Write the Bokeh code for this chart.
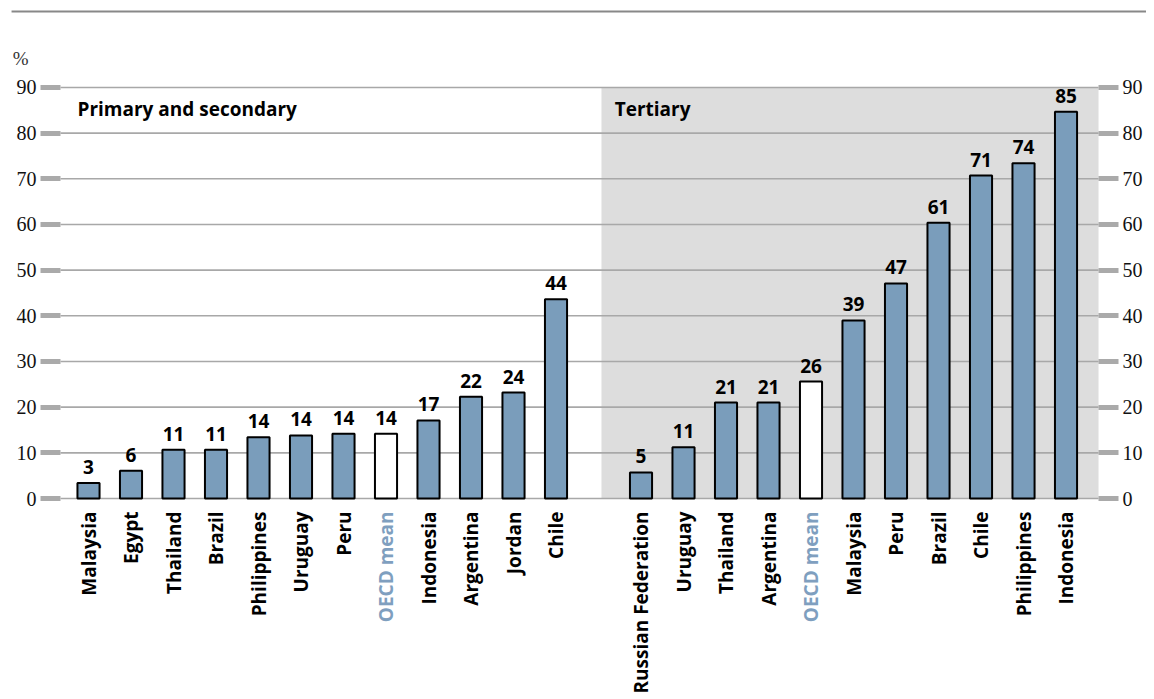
from bokeh.plotting import figure
from bokeh.models import (ColumnDataSource, FixedTicker, LinearAxis, Range1d,
                          BoxAnnotation)
from bokeh.core.properties import value
from bokeh.embed import file_html
from bokeh.resources import INLINE

# ---------------- data ----------------
ps_countries = ["Malaysia", "Egypt", "Thailand", "Brazil", "Philippines", "Uruguay",
                "Peru", "OECD mean", "Indonesia", "Argentina", "Jordan", "Chile"]
ps_values = [3.4, 6.1, 10.7, 10.7, 13.4, 13.8, 14.2, 14.2, 17.1, 22.3, 23.2, 43.6]
ps_labels = ["3", "6", "11", "11", "14", "14", "14", "14", "17", "22", "24", "44"]

t_countries = ["Russian Federation", "Uruguay", "Thailand", "Argentina", "OECD mean",
               "Malaysia", "Peru", "Brazil", "Chile", "Philippines", "Indonesia"]
t_values = [5.7, 11.2, 21.0, 21.0, 25.6, 39.0, 47.1, 60.4, 70.7, 73.4, 84.7]
t_labels = ["5", "11", "21", "21", "26", "39", "47", "61", "71", "74", "85"]

y_ticks = [0, 10, 20, 30, 40, 50, 60, 70, 80, 90]
panel_titles = ["Primary and secondary", "Tertiary"]
unit_label = "%"

# ---------------- styling ----------------
BAR = "#7a9dbb"
OECD_TXT = "#7f9fbf"
SHADE = "#dddddd"
GRID = "#a8a8a8"
TICK = "#aaaaaa"
SANS = "Open Sans"
SERIF = "Liberation Serif"

# layout in data units (one slot per bar, gap slot between panels)
X0, X1 = -2.0706, 25.082          # canvas extent
Y0, Y1 = -44.01, 109.04
FL, FR = -0.6588, 23.765          # plotting-area edges (axes sit here)
SHADE_L = 12.07

names = ps_countries + t_countries
vals = ps_values + t_values
labs = ps_labels + t_labels
xs = list(range(len(ps_countries))) + [len(ps_countries) + 1 + i for i in range(len(t_countries))]
fills = [("white" if n == "OECD mean" else BAR) for n in names]
txtcol = [(OECD_TXT if n == "OECD mean" else "black") for n in names]

src = ColumnDataSource(dict(x=xs, top=vals, lab=labs, name=names, fill=fills, tc=txtcol,
                            zero=[0] * len(xs)))

W, H = 1154, 699
p = figure(width=W, height=H, output_backend="svg", toolbar_location=None,
           x_range=Range1d(X0, X1), y_range=Range1d(Y0, Y1),
           min_border_left=0, min_border_right=0, min_border_top=0, min_border_bottom=0,
           x_axis_location=None, y_axis_location=None)
p.outline_line_color = None
p.background_fill_color = "white"
p.border_fill_color = "white"
p.xgrid.visible = False
p.ygrid.visible = False

# shaded tertiary panel
p.add_layout(BoxAnnotation(left=SHADE_L, right=FR, bottom=0, top=90,
                           fill_color=SHADE, fill_alpha=1.0, line_color=None, level="underlay"))

# horizontal grid lines limited to the plotting area
p.segment(x0=[FL] * len(y_ticks), x1=[FR] * len(y_ticks), y0=y_ticks, y1=y_ticks,
          line_color=GRID, line_width=1.6)

# axes left and right, fixed at the plotting-area edges
for side, loc in [("left", FL), ("right", FR)]:
    ax = LinearAxis(ticker=FixedTicker(ticks=y_ticks), fixed_location=loc)
    ax.axis_line_color = None
    ax.major_tick_line_color = TICK
    ax.major_tick_line_width = 5
    ax.major_tick_out = 20
    ax.major_tick_in = 0
    ax.minor_tick_line_color = None
    ax.major_label_text_font = SERIF
    ax.major_label_text_font_size = "20px"
    ax.major_label_text_color = "#111111"
    ax.major_label_standoff = 4
    p.add_layout(ax, side)

# bars
p.vbar(x="x", top="top", bottom=0, width=0.52, source=src, fill_color="fill",
       line_color="black", line_width=2)

# value labels
p.text(x="x", y="top", text="lab", source=src, text_align="center",
       text_baseline="alphabetic", y_offset=-16, text_font=value(SANS),
       text_font_style="bold", text_font_size="19px", text_color="black")

# category labels (vertical)
p.text(x="x", y="zero", text="name", source=src, angle=1.5707963, text_align="right",
       text_baseline="middle", y_offset=13, text_font=value(SANS),
       text_font_style="bold", text_font_size="19px", text_color="tc")

# panel titles
p.text(x=[-0.26, 12.38], y=[85.3, 85.3], text=panel_titles, text_align="left",
       text_baseline="alphabetic", text_font=value(SANS), text_font_style="bold",
       text_font_size="19px", text_color="black")

# top rule across the page
p.segment(x0=[X0 + 0.26], x1=[X1 - 0.2], y0=[106.63], y1=[106.63],
          line_color="#888888", line_width=2)

# percent sign
p.text(x=[-1.78], y=[96.4], text=[unit_label], text_align="left", text_baseline="middle",
       text_font=value(SERIF), text_font_size="19px", text_color="#333333")

open("out.html", "w").write(file_html(p, INLINE))
